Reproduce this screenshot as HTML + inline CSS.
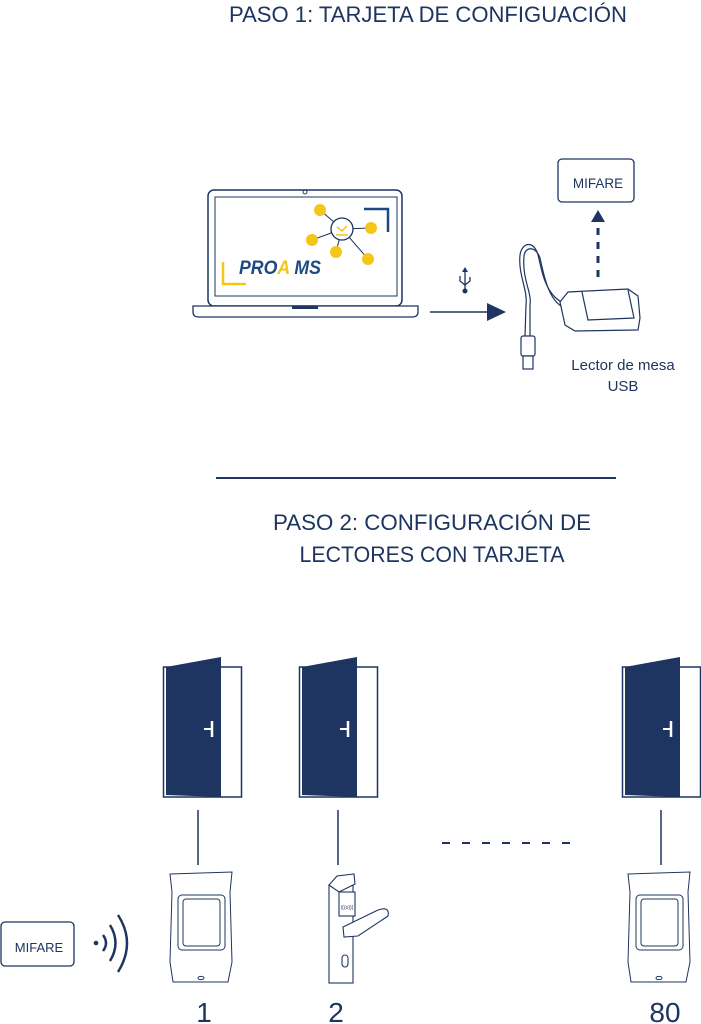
<!DOCTYPE html>
<html><head><meta charset="utf-8"><style>
html,body{margin:0;padding:0;background:#fff;}
svg{display:block;}
text{font-family:"Liberation Sans",sans-serif;fill:#1d3560;}
</style></head><body>
<svg width="701" height="1024" viewBox="0 0 701 1024" xmlns="http://www.w3.org/2000/svg">
<defs>
<g id="door">
  <rect x="0.5" y="10" width="78" height="130" fill="#fff" stroke="#1d3560" stroke-width="1.5"/>
  <polygon points="3,10 58,0 58,140 3,138" fill="#1d3560"/>
  <line x1="41" y1="72" x2="49" y2="72" stroke="#fff" stroke-width="2"/>
  <line x1="49" y1="64" x2="49" y2="80" stroke="#fff" stroke-width="2.5"/>
</g>
<g id="reader" fill="none" stroke="#1d3560" stroke-width="1">
  <path d="M0,2 L62,0 L60,20 L62,90 L58,110 L3,110 L0,90 L2,20 Z"/>
  <rect x="8" y="23" width="47" height="55" rx="4"/>
  <rect x="13" y="27" width="37" height="47" rx="3"/>
  <ellipse cx="31" cy="106" rx="3" ry="1.6"/>
</g>
</defs>

<text x="428" y="22" font-size="22" text-anchor="middle" textLength="398" lengthAdjust="spacingAndGlyphs">PASO 1: TARJETA DE CONFIGUACIÓN</text>

<!-- laptop -->
<rect x="208" y="190" width="194" height="116" rx="6" fill="#fff" stroke="#1d3560" stroke-width="1.5"/>
<rect x="215" y="197" width="182" height="99" fill="#fff" stroke="#1d3560" stroke-width="1"/>
<circle cx="305" cy="192" r="2" fill="none" stroke="#1d3560"/>
<path d="M193,306 L418,306 L418,312 Q418,317 412,317 L199,317 Q193,317 193,312 Z" fill="#fff" stroke="#1d3560" stroke-width="1.3"/>
<rect x="292" y="306" width="26" height="3" fill="#1d3560"/>
<!-- logo -->
<path d="M223,262 L223,284 L246,284" fill="none" stroke="#f5c518" stroke-width="2.5"/>
<path d="M364,209 L388,209 L388,232" fill="none" stroke="#1d4a80" stroke-width="2.5"/>
<g stroke="#1d3560" stroke-width="1">
<line x1="342" y1="229" x2="320" y2="210"/><line x1="342" y1="229" x2="371" y2="228"/>
<line x1="342" y1="229" x2="312" y2="240"/><line x1="342" y1="229" x2="336" y2="252"/>
<line x1="342" y1="229" x2="368" y2="259"/>
</g>
<circle cx="342" cy="229" r="11" fill="#fff" stroke="#1d3560" stroke-width="1.3"/>
<path d="M337,227 L342,231 L347,226" fill="none" stroke="#f5c518" stroke-width="1.5"/>
<line x1="336" y1="235" x2="348" y2="235" stroke="#f5c518" stroke-width="1.5"/>
<g fill="#f5c518"><circle cx="320" cy="210" r="6"/><circle cx="371" cy="228" r="6"/><circle cx="312" cy="240" r="6"/><circle cx="336" cy="252" r="6"/><circle cx="368" cy="259" r="6"/></g>
<text x="239" y="274" font-size="19" font-weight="bold" font-style="italic" style="fill:#1d4a80" textLength="82" lengthAdjust="spacingAndGlyphs">PRO<tspan style="fill:#f5c518">A</tspan> MS</text>

<!-- arrow + usb -->
<line x1="430" y1="312" x2="490" y2="312" stroke="#1d3560" stroke-width="1.5"/>
<polygon points="487,303 506,312 487,321" fill="#1d3560"/>
<g stroke="#1d3560" stroke-width="1.3" fill="none">
<line x1="465" y1="270" x2="465" y2="290"/><path d="M460,276 L460,281 L465,285 L470,281 L470,277"/>
</g>
<circle cx="465" cy="291" r="2.5" fill="#1d3560"/>
<polygon points="465,267 462,272 468,272" fill="#1d3560"/>

<!-- desk reader -->
<g fill="#fff" stroke="#1d3560" stroke-width="1.2">
<path d="M570,305 C545,300 542,270 538,255 C534,240 522,242 520,255 C518,275 528,290 526,305 L525,336" fill="none"/>
<path d="M572,310 C550,308 545,280 540,258 C536,246 525,246 524,256 C522,280 532,292 530,305 L530,336" fill="none"/>
<rect x="521" y="336" width="14" height="20" rx="2"/>
<rect x="523" y="356" width="10" height="13"/>
<path d="M560,302 L568,292 L628,289 L638,296 L640,318 L638,330 L575,331 L565,325 Z"/>
<path d="M582,292 L588,320 L634,318 L628,290"/>
</g>
<rect x="558" y="159" width="76" height="43" rx="4" fill="#fff" stroke="#1d3560" stroke-width="1.3"/>
<text x="598" y="188" font-size="13.5" text-anchor="middle">MIFARE</text>
<polygon points="598,210 591,222 605,222" fill="#1d3560"/>
<line x1="598" y1="228" x2="598" y2="278" stroke="#1d3560" stroke-width="3" stroke-dasharray="7,7"/>
<text x="623" y="370" font-size="15" text-anchor="middle">Lector de mesa</text>
<text x="623" y="391" font-size="15" text-anchor="middle">USB</text>

<line x1="216" y1="478" x2="616" y2="478" stroke="#1d3560" stroke-width="2"/>

<text x="432" y="530" font-size="22" text-anchor="middle" textLength="318" lengthAdjust="spacingAndGlyphs">PASO 2: CONFIGURACIÓN DE</text>
<text x="432" y="562" font-size="22" text-anchor="middle" textLength="265" lengthAdjust="spacingAndGlyphs">LECTORES CON TARJETA</text>

<use href="#door" x="163" y="657"/>
<use href="#door" x="299" y="657"/>
<use href="#door" x="622" y="657"/>

<g stroke="#1d3560" stroke-width="1.5">
<line x1="198" y1="810" x2="198" y2="865"/>
<line x1="338" y1="810" x2="338" y2="865"/>
<line x1="661" y1="810" x2="661" y2="865"/>
<line x1="442" y1="843" x2="572" y2="843" stroke-width="2" stroke-dasharray="8,12"/>
</g>

<use href="#reader" x="170" y="872"/>
<use href="#reader" x="628" y="872"/>

<!-- lock 2 -->
<g fill="#fff" stroke="#1d3560" stroke-width="1.1">
<rect x="329" y="885" width="24" height="98"/>
<path d="M329,885 L337,876 L354,874 L355,884 L339,892 Z"/>
<rect x="339" y="892" width="16" height="24"/>
<path d="M343,927 L378,910 Q390,906 388,916 L358,936 L344,937 Z"/>
<rect x="342" y="955" width="6" height="12" rx="3"/>
</g>
<text x="347" y="909" font-size="5" text-anchor="middle">(((o)))</text>

<!-- card & waves -->
<rect x="1" y="922" width="73" height="44" rx="4" fill="#fff" stroke="#1d3560" stroke-width="1.3"/>
<text x="39" y="952" font-size="13" text-anchor="middle">MIFARE</text>
<circle cx="96" cy="943" r="2.3" fill="#1d3560"/>
<g fill="none" stroke="#1d3560" stroke-width="2.5">
<path d="M103,935 Q109,943 103,951"/>
<path d="M110,925 Q121,943 110,961"/>
<path d="M118,915 Q136,943 118,972"/>
</g>

<text x="204" y="1022" font-size="28" text-anchor="middle">1</text>
<text x="336" y="1022" font-size="28" text-anchor="middle">2</text>
<text x="665" y="1022" font-size="28" text-anchor="middle">80</text>
</svg>
</body></html>
